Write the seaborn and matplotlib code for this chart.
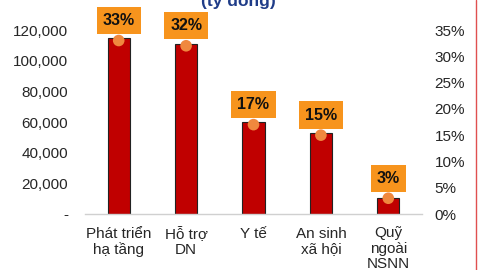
import matplotlib
matplotlib.use("Agg")
import matplotlib.pyplot as plt
import seaborn as sns
import pandas as pd
from matplotlib.lines import Line2D
from matplotlib.ticker import FuncFormatter

categories = ["Phát triển\nhạ tầng", "Hỗ trợ\nDN", "Y tế", "An sinh\nxã hội", "Quỹ\nngoài\nNSNN"]
amounts = [114500, 110700, 60200, 53000, 10300]
shares = [0.33, 0.32, 0.17, 0.15, 0.03]
share_labels = ["33%", "32%", "17%", "15%", "3%"]
title = "(tỷ đồng)"

sns.set_theme(style="white")
plt.rcParams["font.family"] = ["Liberation Sans", "DejaVu Sans"]

df = pd.DataFrame({"cat": categories, "amount": amounts, "share": shares})

fig = plt.figure(figsize=(4.8, 2.7), dpi=100)
ax = fig.add_axes([85/480, 1-214/270, (422-85)/480, (214-30)/270])
sns.barplot(data=df, x="cat", y="amount", color="#C00000", width=0.33,
            edgecolor="#222222", linewidth=0.8, saturation=1, ax=ax)
ax.set_xlim(-0.5, 4.5)
ax.set_ylim(0, 120000)
ax.set_yticks(range(0, 120001, 20000))
ax.yaxis.set_major_formatter(FuncFormatter(lambda v, p: "-" if v == 0 else f"{int(v):,}"))
ax.set_xlabel("")
ax.set_ylabel("")
for s in ["top", "right", "left"]:
    ax.spines[s].set_visible(False)
ax.spines["bottom"].set_color("#d0d0d0")
ax.spines["bottom"].set_linewidth(1.0)
ax.tick_params(axis="y", length=0, pad=12, labelsize=11, labelcolor="#262626")
ax.tick_params(axis="x", length=0, pad=9, labelsize=11, labelcolor="#262626")
for lab in ax.get_xticklabels():
    lab.set_linespacing(1.1)
    lab.set_verticalalignment("top")

ax2 = ax.twinx()
sns.scatterplot(data=df, x="cat", y="share", color="#F0883E", s=70,
                edgecolor="none", ax=ax2, zorder=5)
ax2.set_ylim(0, 0.35)
ax2.set_yticks([i/100 for i in range(0, 36, 5)])
ax2.yaxis.set_major_formatter(FuncFormatter(lambda v, p: f"{round(v*100)}%"))
ax2.set_ylabel("")
for s in ["top", "right", "left", "bottom"]:
    ax2.spines[s].set_visible(False)
ax2.tick_params(axis="y", length=0, pad=9, labelsize=11, labelcolor="#262626")

for i, (v, t) in enumerate(zip(shares, share_labels)):
    ax2.annotate(t, (i, v), xytext=(0, 14.5), textcoords="offset points",
                 ha="center", va="center", fontsize=11.5, fontweight="bold",
                 color="#111111", annotation_clip=False,
                 bbox=dict(boxstyle="square,pad=0.38", fc="#F7941D", ec="none"))

fig.text(238/480, 1-1/270, title, ha="center", va="center", fontsize=12.5,
         fontweight="bold", color="#1F3C88")
fig.add_artist(Line2D([476/480, 476/480], [0, 1], transform=fig.transFigure,
                      color="#E05050", linewidth=1.0))

fig.savefig("out.png", dpi=100)
